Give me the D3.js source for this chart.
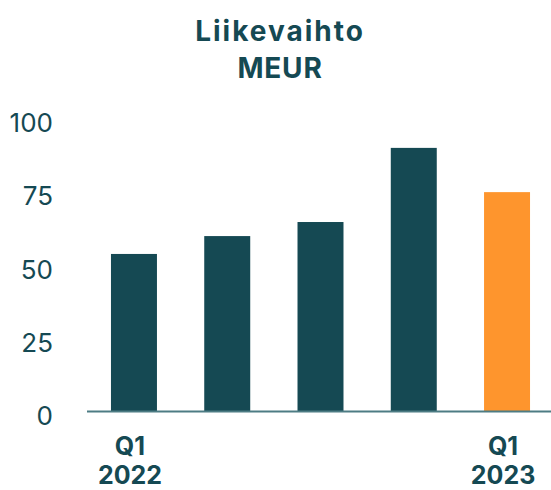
<!DOCTYPE html>
<html><head><meta charset="utf-8">
<script src="https://cdn.jsdelivr.net/npm/d3@7"></script>
<style>body{margin:0;background:#fff}svg{display:block}</style>
</head><body>
<script>
const categories = ["Q1 2022", "Q2 2022", "Q3 2022", "Q4 2022", "Q1 2023"];
const values = [53.6, 59.7, 64.5, 89.8, 74.7];
const barColors = ["#154953", "#154953", "#154953", "#154953", "#FE952D"];
const xLabels = [["Q1", "2022"], null, null, null, ["Q1", "2023"]];
const yTicks = [0, 25, 50, 75, 100];
const titleLines = ["Liikevaihto", "MEUR"];

const W = 551, H = 490;
const teal = "#154953";
const font = "Inter, 'Open Sans', sans-serif";
const svg = d3.select("body").append("svg").attr("width", W).attr("height", H);

const y = d3.scaleLinear().domain([0, 100]).range([411, 118]);
const x = d3.scaleBand().domain(categories).range([87, 554]).paddingInner(0.507).paddingOuter(0.257);

svg.selectAll("text.title").data(titleLines).join("text")
  .attr("x", 280).attr("y", (d, i) => 41 + i * 37)
  .attr("text-anchor", "middle").attr("font-family", font)
  .attr("font-weight", 700).attr("font-size", 28).attr("fill", teal)
  .attr("letter-spacing", (d, i) => i === 0 ? 2 : 0.8)
  .text(d => d);

svg.selectAll("text.ytick").data(yTicks).join("text")
  .attr("x", 53).attr("y", d => y(d) + 14)
  .attr("text-anchor", "end").attr("font-family", font)
  .attr("font-size", 26).attr("fill", teal)
  .text(d => d);

svg.selectAll("rect.bar").data(values).join("rect")
  .attr("x", (d, i) => x(categories[i]))
  .attr("width", x.bandwidth())
  .attr("y", d => y(d))
  .attr("height", d => y(0) - y(d))
  .attr("fill", (d, i) => barColors[i]);

svg.append("line").attr("x1", 87).attr("x2", W).attr("y1", y(0) + 0.5).attr("y2", y(0) + 0.5)
  .attr("stroke", "#4d7c84").attr("stroke-width", 2);

categories.forEach((c, i) => {
  if (!xLabels[i]) return;
  const cx = x(c) + x.bandwidth() / 2 - 4;
  xLabels[i].forEach((t, j) => {
    svg.append("text").attr("x", cx).attr("y", 455 + j * 29)
      .attr("text-anchor", "middle").attr("font-family", font)
      .attr("font-weight", 700).attr("font-size", 25).attr("fill", teal)
      .text(t);
  });
});
</script>
</body></html>
